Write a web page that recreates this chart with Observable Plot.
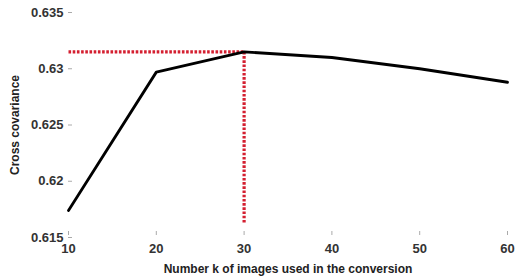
<!DOCTYPE html>
<html><head><meta charset="utf-8">
<script src="https://cdn.jsdelivr.net/npm/d3@7"></script>
<script src="https://cdn.jsdelivr.net/npm/@observablehq/plot@0.6"></script>
<style>body{margin:0;background:#fff;} svg{font-family:"Liberation Sans",Arial,sans-serif;}</style>
</head><body><div id="chart"></div>
<script>
const kValues = [10, 20, 30, 40, 50, 60];
const covariance = [0.6174, 0.6297, 0.6315, 0.6310, 0.6300, 0.6288];
const xTicks = [10, 20, 30, 40, 50, 60];
const yTicks = [0.615, 0.62, 0.625, 0.63, 0.635];
const peakK = 30, peakValue = 0.6315, vlineBottom = 0.6162;

const data = kValues.map((k, i) => ({k, v: covariance[i]}));
const W = 523, H = 278, mL = 68, mR = 16, mT = 12, mB = 41;
const innerH = H - mT - mB, innerW = W - mL - mR;
const dotted = {x: "k", y: "v", stroke: "#d41f30", strokeWidth: 3.2, strokeDasharray: "2.6,1.6", strokeLinecap: "butt", strokeLinejoin: "miter"};

const chart = Plot.plot({
  width: W, height: H,
  marginLeft: mL, marginRight: mR, marginTop: mT, marginBottom: mB,
  style: {fontFamily: "'Liberation Sans', Arial, sans-serif", background: "#fff"},
  x: {domain: [10, 60]},
  y: {domain: [0.615, 0.635]},
  marks: [
    Plot.axisX({ticks: xTicks, tickSize: 0, tickPadding: 6, fontSize: 13, fontWeight: "bold", fill: "#333",
      label: "Number k of images used in the conversion", labelAnchor: "center", labelArrow: "none", labelOffset: 35}),
    Plot.tickX(xTicks, {x: d => d, stroke: "#aaa", strokeWidth: 1, insetTop: innerH - 6, insetBottom: 2}),
    Plot.axisY({ticks: yTicks, tickSize: 0, tickPadding: 5, fontSize: 13, fontWeight: "bold", fill: "#333",
      tickFormat: d => String(d),
      label: "Cross covariance", labelAnchor: "center", labelArrow: "none", labelOffset: 58}),
    Plot.tickY(yTicks, {y: d => d, stroke: "#aaa", strokeWidth: 1, insetRight: innerW - 4}),
    Plot.line([{k: kValues[0], v: peakValue}, {k: peakK, v: peakValue}], dotted),
    Plot.line([{k: peakK, v: peakValue}, {k: peakK, v: vlineBottom}], dotted),
    Plot.line(data, {x: "k", y: "v", stroke: "#000", strokeWidth: 2.8})
  ]
});
document.getElementById("chart").appendChild(chart);
chart.querySelectorAll("g[aria-label='x-axis label'] text, g[aria-label='y-axis label'] text").forEach(t => {
  t.setAttribute("font-weight", "bold"); t.setAttribute("font-size", "12"); t.setAttribute("fill", "#222");
});
</script></body></html>
